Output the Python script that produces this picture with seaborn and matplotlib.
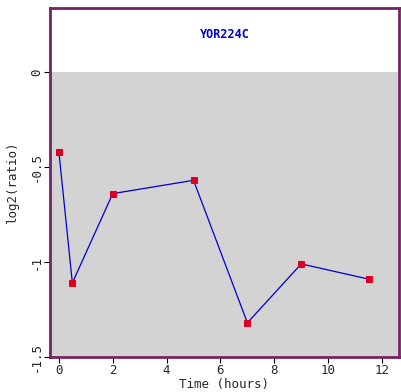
import numpy as np
import pandas as pd
import matplotlib
matplotlib.use("Agg")
import matplotlib.pyplot as plt
import seaborn as sns

# Expression time course for one gene.
gene = "YOR224C"
hours = [0, 0.5, 2, 5, 7, 9, 11.5]
log2_ratio = [-0.42, -1.11, -0.64, -0.57, -1.32, -1.01, -1.09]
x_ticks = [0, 2, 4, 6, 8, 10, 12]
y_ticks = [0, -0.5, -1, -1.5]
y_tick_labels = ["0", "-0.5", "-1", "-1.5"]

df = pd.DataFrame({"hours": hours, "log2_ratio": log2_ratio})

sns.set_style("white")
plt.rcParams["font.family"] = ["DejaVu Sans Mono", "DejaVu Sans"]

fig = plt.figure(figsize=(4.02, 3.92), dpi=100)
ax = fig.add_axes([50 / 402, 35 / 392, 349 / 402, 349 / 392])

ax.set_xlim(-0.33, 12.63)
ax.set_ylim(-1.5, 0.337)

# grey band for the negative region
ax.axhspan(-1.5, 0, color="#d3d3d3", zorder=0, lw=0)

sns.lineplot(data=df, x="hours", y="log2_ratio", ax=ax, color="#0000cc",
             linewidth=0.9, marker="s", markersize=4.5,
             markerfacecolor="#dd0022", markeredgecolor="#dd0022", zorder=3)

ax.text(0.5, 0.925, gene, transform=ax.transAxes, ha="center", va="center",
        color="#0000cc", fontsize=8.5, fontweight="bold")

ax.set_xticks(x_ticks)
ax.set_yticks(y_ticks)
ax.set_yticklabels(y_tick_labels, rotation=90, va="center")
ax.tick_params(axis="both", direction="out", length=4, width=0.8,
               labelsize=9, color="black", left=True, bottom=True, pad=1)
ax.set_xlabel("Time (hours)", fontsize=9, labelpad=1)
ax.set_ylabel("log2(ratio)", fontsize=9, labelpad=8)

for side in ax.spines.values():
    side.set_visible(True)
    side.set_color("#772266")
    side.set_linewidth(2)

fig.savefig("out.png", dpi=100, facecolor="white")
